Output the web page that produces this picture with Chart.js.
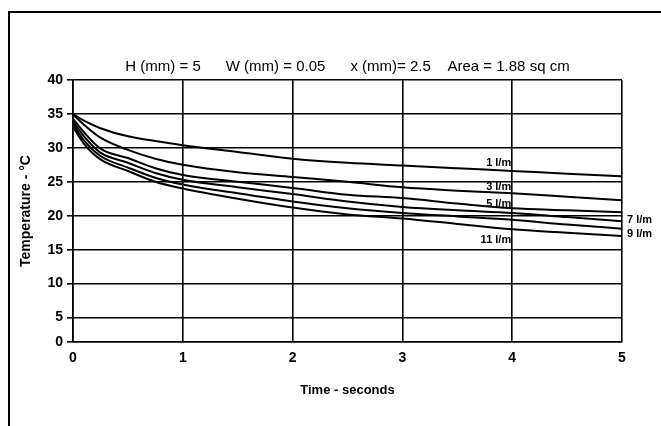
<!DOCTYPE html>
<html>
<head>
<meta charset="utf-8">
<script src="https://cdn.jsdelivr.net/npm/chart.js@4"></script>
<style>
  body { margin: 0; background: #fff; }
  #wrap { position: relative; width: 661px; height: 426px; overflow: hidden; }
  #frame { position: absolute; left: 8px; top: 11px; width: 700px; height: 500px;
           border-left: 2px solid #000; border-top: 2px solid #000; }
  canvas { position: absolute; left: 0; top: 0; }
</style>
</head>
<body>
<div id="wrap">
  <div id="frame"></div>
  <canvas id="chart" width="661" height="426"></canvas>
</div>
<script>
// donnees
const times = [0, 0.1, 0.25, 0.5, 0.75, 1, 1.5, 2, 2.5, 3, 3.5, 4, 4.5, 5];
const flow1 = [35.0, 34.0, 32.9, 31.7, 31.0, 30.4, 29.4, 28.4, 27.8, 27.4, 27.0, 26.6, 26.2, 25.8];
const flow3 = [34.9, 33.4, 31.5, 29.7, 28.4, 27.5, 26.4, 25.7, 25.0, 24.2, 23.7, 23.3, 22.8, 22.3];
const flow5 = [34.3, 32.3, 29.9, 28.5, 27.0, 26.0, 25.0, 24.1, 23.1, 22.6, 21.8, 21.1, 20.8, 20.5];
const flow7 = [33.9, 31.7, 29.3, 27.8, 26.3, 25.3, 24.2, 23.2, 22.1, 21.3, 20.8, 20.4, 19.8, 19.2];
const flow9 = [33.5, 31.1, 28.8, 27.1, 25.6, 24.6, 23.3, 22.1, 21.1, 20.4, 19.9, 19.4, 18.7, 18.1];
const flow11 = [33.1, 30.6, 28.3, 26.6, 25.0, 24.0, 22.5, 21.2, 20.2, 19.6, 18.8, 18.0, 17.5, 17.0];
const seriesNames = ['1 l/m', '3 l/m', '5 l/m', '7 l/m', '9 l/m', '11 l/m'];
const seriesValues = [flow1, flow3, flow5, flow7, flow9, flow11];

// l'axe du bas est "ecrase" : la ligne 0 est placee a ~1.4
const yAxisBottom = 1.4;
const yTickValues = [yAxisBottom, 5, 10, 15, 20, 25, 30, 35, 40];
const yTickLabels = ['0', '5', '10', '15', '20', '25', '30', '35', '40'];

// etiquettes des courbes (en unites du graphique)
const labelX = [4, 4, 4, 5, 5, 4];
const labelY = [27.8, 24.3, 21.8, 19.4, 17.35, 16.5];
const labelAlign = ['right', 'right', 'right', 'left', 'left', 'right'];

const FONT = "'Liberation Sans', Arial, sans-serif";

let datasets = [];
for (let i = 0; i < seriesValues.length; i++) {
    datasets.push({
        label: seriesNames[i],
        data: times.map((t, j) => ({x: t, y: seriesValues[i][j]})),
        borderColor: '#000',
        borderWidth: 2,
        pointRadius: 0,
        fill: false,
        cubicInterpolationMode: 'monotone'
    });
}

// plugin pour les noms des courbes
const curveLabels = {
    id: 'curveLabels',
    afterDatasetsDraw(chart) {
        const ctx = chart.ctx;
        const xs = chart.scales.x;
        const ys = chart.scales.y;
        ctx.save();
        ctx.fillStyle = '#000';
        ctx.font = 'bold 11px ' + FONT;
        ctx.textBaseline = 'middle';
        for (let i = 0; i < seriesNames.length; i++) {
            let px = xs.getPixelForValue(labelX[i]);
            let py = ys.getPixelForValue(labelY[i]);
            ctx.textAlign = labelAlign[i];
            ctx.fillText(seriesNames[i], labelAlign[i] == 'left' ? px + 5 : px - 1, py);
        }
        ctx.restore();
    }
};

const ctx = document.getElementById('chart').getContext('2d');
const myChart = new Chart(ctx, {
    type: 'line',
    data: { datasets: datasets },
    plugins: [curveLabels],
    options: {
        responsive: false,
        animation: false,
        layout: { padding: { left: 0, right: 39, top: 0, bottom: 0 } },
        plugins: {
            legend: { display: false },
            tooltip: { enabled: false },
            title: {
                display: true,
                fullSize: false,
                text: 'H (mm) = 5      W (mm) = 0.05      x (mm)= 2.5    Area = 1.88 sq cm',
                color: '#000',
                font: { family: FONT, size: 15, weight: 'normal' },
                padding: { top: 58, bottom: 4 }
            }
        },
        scales: {
            x: {
                type: 'linear',
                min: 0,
                max: 5,
                afterFit: (scale) => { scale.height = 84; },
                ticks: { stepSize: 1, color: '#000', padding: 8, font: { family: FONT, size: 14, weight: 'bold' } },
                grid: { color: '#000', lineWidth: 1.6, drawTicks: false },
                border: { color: '#000', width: 1.6 },
                title: {
                    display: true,
                    text: 'Time - seconds',
                    color: '#000',
                    font: { family: FONT, size: 13, weight: 'bold' },
                    padding: { top: 0, bottom: 28 }
                }
            },
            y: {
                min: yAxisBottom,
                max: 40,
                afterFit: (scale) => { scale.width = 73; },
                afterBuildTicks: (axis) => { axis.ticks = yTickValues.map(v => ({value: v})); },
                ticks: {
                    color: '#000',
                    padding: 4,
                    font: { family: FONT, size: 14, weight: 'bold' },
                    callback: (value, index) => yTickLabels[index]
                },
                grid: { color: '#000', lineWidth: 1.6, tickLength: 6, tickColor: '#000' },
                border: { color: '#000', width: 1.6 },
                title: {
                    display: true,
                    text: 'Temperature - °C',
                    color: '#000',
                    font: { family: FONT, size: 14, weight: 'bold' },
                    padding: { top: 18, bottom: 0 }
                }
            }
        }
    }
});
</script>
</body>
</html>
